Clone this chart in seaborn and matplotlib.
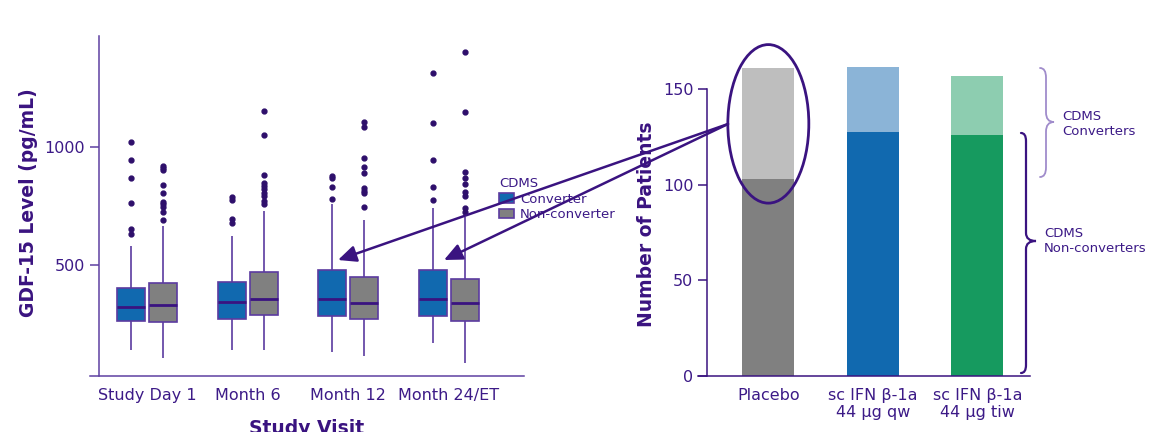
import numpy as np
import pandas as pd
import seaborn as sns
import matplotlib.pyplot as plt
from matplotlib.patches import Ellipse, FancyArrowPatch, PathPatch
from matplotlib.path import Path

# ---- left panel: GDF-15 by visit (box summaries) ----
visits = ['Study Day 1', 'Month 6', 'Month 12', 'Month 24/ET']

conv_low = [141, 141, 133, 172]
conv_q1 = [264, 271, 285, 285]
conv_med = [322, 346, 359, 359]
conv_q3 = [403, 431, 480, 480]
conv_high = [582, 623, 760, 742]
conv_out = [[1024, 946, 870, 764, 655, 633],
            [791, 779, 695, 681],
            [879, 869, 832, 780],
            [1315, 1105, 945, 833, 778]]

non_low = [109, 141, 116, 88]
non_q1 = [261, 290, 274, 263]
non_med = [332, 356, 342, 342]
non_q3 = [427, 473, 452, 441]
non_high = [668, 730, 692, 706]
non_out = [[921, 911, 903, 839, 805, 767, 760, 749, 726, 692],
           [1153, 1051, 881, 850, 836, 822, 808, 794, 774, 760],
           [1109, 1088, 956, 915, 890, 826, 816, 805, 749],
           [1404, 1151, 897, 871, 846, 809, 795, 742, 725]]

# ---- right panel: patients per arm ----
arms = ['Placebo', 'sc IFN β-1a\n44 µg qw', 'sc IFN β-1a\n44 µg tiw']
non_converters = [103, 128, 126]
converters = [58, 34, 31]

W, H = 1168, 432
PURPLE = '#3C1A87'
DARK = '#3A1380'
AXIS_L = '#5E40A2'


def fx(x):
    return x / W


def fy(y):
    return 1 - y / H


# expand each five-number summary into rows so seaborn computes the same box
rows = []
for i, v in enumerate(visits):
    for grp, lo, q1, md, q3, hi, out in [
            ('Converter', conv_low, conv_q1, conv_med, conv_q3, conv_high, conv_out),
            ('Non-converter', non_low, non_q1, non_med, non_q3, non_high, non_out)]:
        vals = [lo[i]] + [q1[i]] * 20 + [md[i]] * 20 + [q3[i]] * 20 + [hi[i]] + out[i]
        rows += [(v, grp, val) for val in vals]
df = pd.DataFrame(rows, columns=['Visit', 'CDMS', 'GDF15'])

sns.set_style('white')
plt.rcParams['font.family'] = ['DejaVu Sans']

fig = plt.figure(figsize=(W / 100, H / 100), dpi=100)
ax1 = fig.add_axes([fx(90), fy(376), (524 - 90) / W, (376 - 36) / H])
ax2 = fig.add_axes([fx(698), fy(376), (1030 - 698) / W, (376 - 36) / H])

sns.boxplot(data=df, x='Visit', y='GDF15', hue='CDMS', ax=ax1,
            order=visits, hue_order=['Converter', 'Non-converter'],
            palette={'Converter': '#1169AF', 'Non-converter': '#808080'},
            saturation=1, width=0.637, gap=0.123, whis=1.5,
            linecolor='#5B3BA0', linewidth=1.2, showcaps=False,
            medianprops=dict(color=DARK, linewidth=2),
            flierprops=dict(marker='o', markersize=3.5, markerfacecolor='#2E0F6B',
                            markeredgecolor='#2E0F6B'))

ax1.set_xlim(-0.572, 3.751)
ax1.set_ylim(31, 1472)
ax1.set_yticks([500, 1000])
ax1.set_xlabel('')
ax1.set_ylabel('')
for s in ['top', 'right']:
    ax1.spines[s].set_visible(False)
ax1.spines['left'].set_position(('data', -0.482))
for s in ['left', 'bottom']:
    ax1.spines[s].set_color(AXIS_L)
    ax1.spines[s].set_linewidth(1.1)
ax1.tick_params(axis='y', length=6.5, width=1.1, color=AXIS_L, pad=3.5,
                labelsize=11.5, labelcolor=PURPLE, left=True)
ax1.tick_params(axis='x', length=0, pad=8.5, labelsize=11.5, labelcolor=PURPLE)

leg = ax1.legend(title='CDMS', loc='upper left', frameon=False,
                 bbox_to_anchor=(fx(499), fy(177)), bbox_transform=fig.transFigure,
                 borderpad=0, borderaxespad=0, fontsize=9.5, title_fontsize=9.5,
                 handlelength=1.1, handleheight=0.7, handletextpad=0.5,
                 labelspacing=0.2, alignment='left', labelcolor=PURPLE)
leg.get_title().set_color(PURPLE)

# stacked bars: total (light) then non-converters (dark) on top
sns.barplot(x=arms, y=[n + c for n, c in zip(non_converters, converters)], hue=arms,
            palette=['#BEBEBE', '#8BB4D7', '#8DCDB0'], legend=False,
            saturation=1, width=0.5, errorbar=None, linewidth=0, ax=ax2)
sns.barplot(x=arms, y=non_converters, hue=arms,
            palette=['#808080', '#1169AF', '#169A5F'], legend=False,
            saturation=1, width=0.5, errorbar=None, linewidth=0, ax=ax2)

ax2.set_xlim(-0.673, 2.504)
ax2.set_ylim(0, 178)
ax2.set_yticks([0, 50, 100, 150])
for s in ['top', 'right']:
    ax2.spines[s].set_visible(False)
ax2.spines['left'].set_position(('data', -0.584))
ax2.spines['left'].set_bounds(0, 150)
for s in ['left', 'bottom']:
    ax2.spines[s].set_color(DARK)
    ax2.spines[s].set_linewidth(1.1)
ax2.tick_params(axis='y', length=6.5, width=1.1, color=DARK, pad=3.5,
                labelsize=11.5, labelcolor=PURPLE, left=True)
ax2.tick_params(axis='x', length=0, pad=8.5, labelsize=11.5, labelcolor=PURPLE)

# ellipse around placebo converters
ax2.add_patch(Ellipse((0, non_converters[0] + converters[0] / 2), 0.775, 83,
                      fill=False, ec=DARK, lw=2, clip_on=False, zorder=5))

# axis titles
fig.text(fx(29), fy(203), 'GDF-15 Level (pg/mL)', rotation=90, ha='center', va='center',
         fontsize=13.5, fontweight='bold', color=DARK)
fig.text(fx(647), fy(224), 'Number of Patients', rotation=90, ha='center', va='center',
         fontsize=13.5, fontweight='bold', color=DARK)
fig.text(fx(307), fy(419), 'Study Visit', ha='center', va='top',
         fontsize=13.5, fontweight='bold', color=DARK)

# arrows from ellipse to the boxes
for tip in [(338, 260), (444, 260)]:
    fig.add_artist(FancyArrowPatch((fx(728), fy(124)), (fx(tip[0]), fy(tip[1])),
                                   transform=fig.transFigure,
                                   arrowstyle='-|>,head_length=0.55,head_width=0.25',
                                   mutation_scale=20, lw=1.8, color=DARK,
                                   shrinkA=0, shrinkB=0, zorder=10))


def brace(x0, xv, xt, ytop, ymid, ybot, color, lw):
    r = (xv - x0) * 1.6
    pts = [(x0, ytop), (xv, ytop), (xv, ytop + r), (xv, ymid - r),
           (xv, ymid), (xt, ymid), (xv, ymid), (xv, ymid + r),
           (xv, ybot - r), (xv, ybot), (x0, ybot)]
    codes = [Path.MOVETO, Path.CURVE3, Path.CURVE3, Path.LINETO,
             Path.CURVE3, Path.CURVE3, Path.CURVE3, Path.CURVE3,
             Path.LINETO, Path.CURVE3, Path.CURVE3]
    path = Path([(fx(x), fy(y)) for x, y in pts], codes)
    fig.add_artist(PathPatch(path, transform=fig.transFigure, fill=False,
                             ec=color, lw=lw, capstyle='round'))


brace(1040, 1046, 1054, 68, 122, 177, '#A08CCB', 1.3)
brace(1021, 1026, 1036, 133, 241, 373, DARK, 1.6)
fig.text(fx(1062), fy(124), 'CDMS\nConverters', ha='left', va='center',
         fontsize=9.5, color=PURPLE, linespacing=1.2)
fig.text(fx(1044), fy(241), 'CDMS\nNon-converters', ha='left', va='center',
         fontsize=9.5, color=PURPLE, linespacing=1.2)

fig.savefig('out.png', dpi=100)
